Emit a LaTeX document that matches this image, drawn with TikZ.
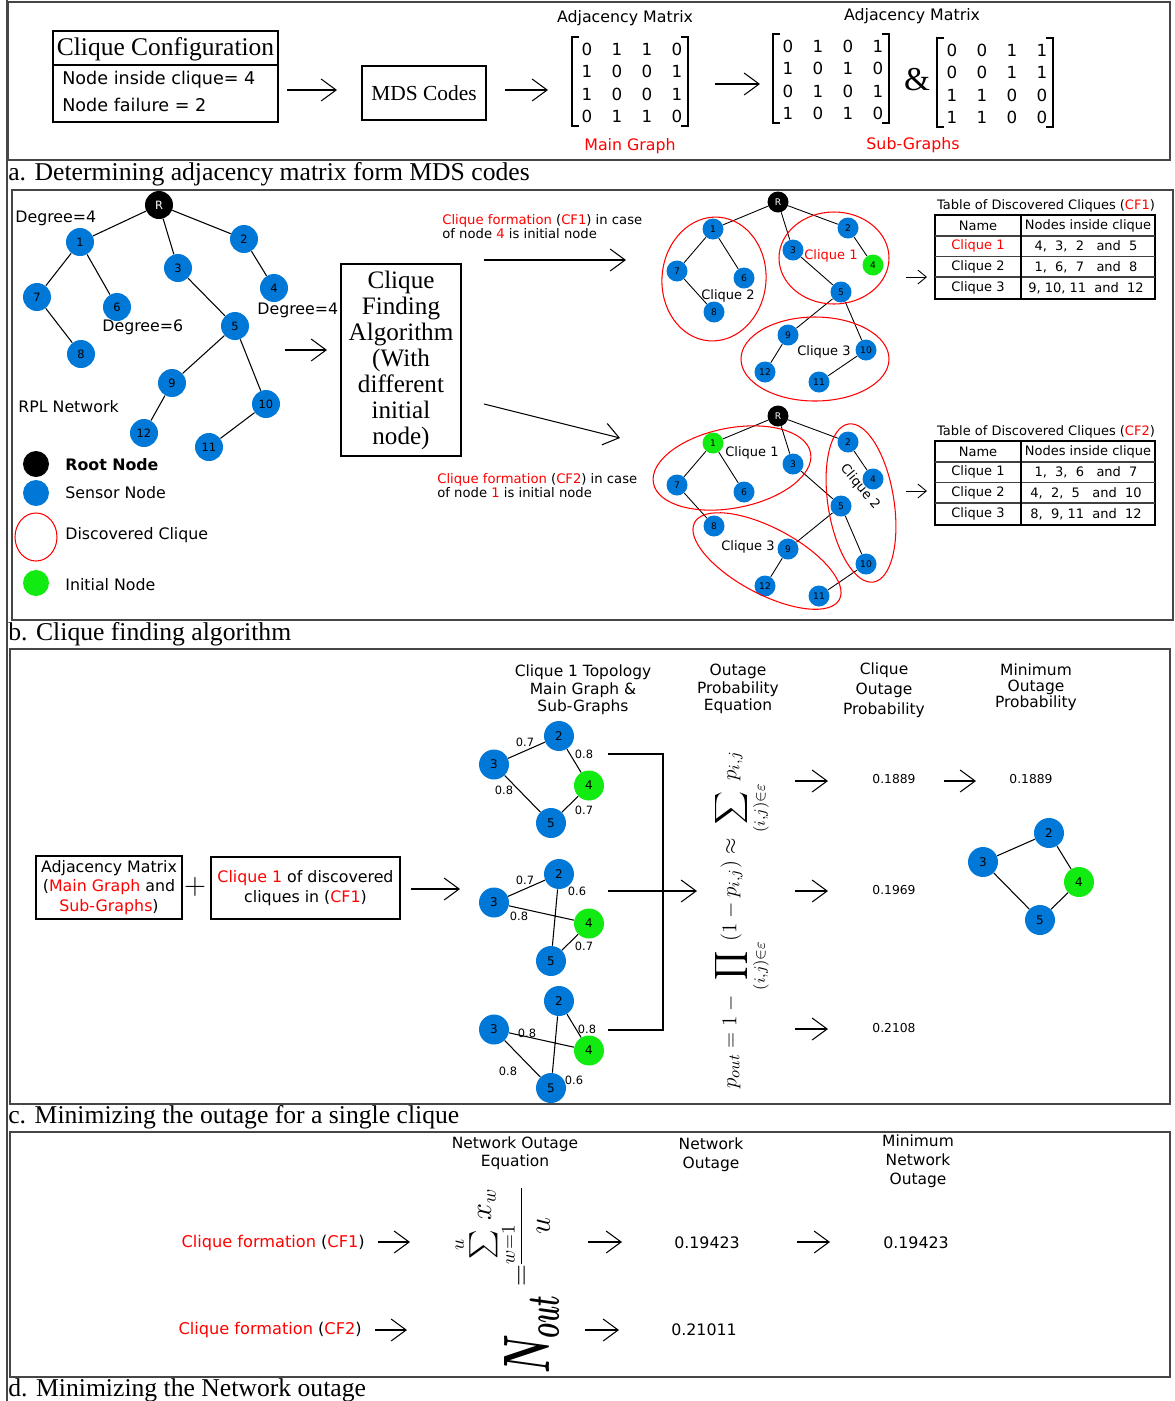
\documentclass[tikz,border=0pt]{standalone}
\usepackage{amsmath,amssymb}
\usepackage{graphicx}
\usepackage{fontspec}
\setmainfont{Liberation Serif}
\setsansfont{DejaVu Sans}
\usepackage{tikz}
\usetikzlibrary{arrows.meta}
\definecolor{nodeblue}{RGB}{0,120,215}
\definecolor{initgreen}{RGB}{18,235,18}
\definecolor{framegray}{RGB}{70,70,70}
\tikzset{
  panelframe/.style = {draw=framegray, line width=1.1pt},
  boxline/.style    = {draw, line width=0.8pt},
  bigarr/.style     = {-{Straight Barb[length=3mm,width=4.4mm]}, line width=0.6pt},
  smallarr/.style   = {-{Straight Barb[length=1.7mm,width=2.8mm]}, line width=0.5pt},
  edge/.style       = {line width=0.6pt},
  cliquering/.style = {draw=red, line width=0.6pt},
  captiontxt/.style = {anchor=west, inner sep=0pt, font=\fontsize{14.6}{16}\selectfont},
  serifbig/.style   = {inner sep=0pt, font=\fontsize{14.5}{16}\selectfont},
  labtxt/.style     = {inner sep=0pt, font=\sffamily\fontsize{9}{11}\selectfont},
  smalltxt/.style   = {inner sep=0pt, font=\sffamily\fontsize{7.4}{8}\selectfont},
  numtxt/.style     = {inner sep=0pt, font=\sffamily\fontsize{7}{8}\selectfont},
  wlabel/.style     = {inner sep=0pt, font=\sffamily\fontsize{6.5}{7}\selectfont},
  mtxentry/.style   = {inner sep=0pt, font=\sffamily\fontsize{9.5}{10}\selectfont},
  sensor/.style     = {circle, fill=nodeblue, inner sep=0pt, minimum size=0.56cm,
                       font=\sffamily\fontsize{6.5}{7}\selectfont},
  rootnode/.style   = {sensor, fill=black, text=white},
  tinysensor/.style = {circle, fill=nodeblue, inner sep=0pt, minimum size=0.42cm,
                       font=\sffamily\fontsize{5.2}{6}\selectfont},
  topnode/.style    = {circle, fill=nodeblue, inner sep=0pt, minimum size=0.6cm,
                       font=\sffamily\fontsize{6.8}{7}\selectfont}
}
\newcommand{\adjmat}[4]{%
  \draw[line width=0.7pt] (#2+7,#3) -- (#2,#3) -- (#2,#3+89) -- (#2+7,#3+89);
  \draw[line width=0.7pt] (#2+109,#3) -- (#2+116,#3) -- (#2+116,#3+89) -- (#2+109,#3+89);
  \foreach \row [count=\r] in {#4}
    \foreach \v [count=\c] in \row
      \node[mtxentry] (#1-\r-\c) at (#2+15+30*\c-30,#3+12+22.5*\r-22.5) {\v};
}
\newcommand{\cliquetab}[7]{%
  \node[smalltxt] (#1title) at (1046,#2-9) {Table of Discovered Cliques (\textcolor{red}{#3})};
  \draw[line width=0.7pt] (935,#2) rectangle (1155,#2+84);
  \foreach \dy in {21,41.5,62}
    \draw[line width=0.9pt,black!75] (935,#2+\dy) -- (1155,#2+\dy);
  \draw[line width=0.7pt] (1021,#2) -- (1021,#2+84);
  \node[smalltxt] (#1h1) at (978,#2+10.5) {Name};
  \node[smalltxt] (#1h2) at (1088,#2+10.5) {Nodes inside clique};
  \node[smalltxt] (#1c1) at (978,#2+31) {#4};
  \node[smalltxt] (#1c2) at (978,#2+52) {Clique 2};
  \node[smalltxt] (#1c3) at (978,#2+73) {Clique 3};
  \node[smalltxt] (#1v1) at (1086,#2+31) {#5};
  \node[smalltxt] (#1v2) at (1086,#2+52) {#6};
  \node[smalltxt] (#1v3) at (1086,#2+73) {#7};
}

\begin{document}
\begin{tikzpicture}[x=0.02cm,y=-0.02cm]
  \useasboundingbox (0,0) rectangle (1175,1401);
  \draw[panelframe] (7,0) -- (7,1401);
  \draw[panelframe] (8,2) rectangle (1170,160);
  \draw[panelframe] (12,190) rectangle (1173,620);
  \draw[panelframe] (10,649) rectangle (1170,1104);
  \draw[panelframe] (10,1132) rectangle (1170,1377);
  \node[captiontxt] (capa) at (8,174) {a. Determining adjacency matrix form MDS codes};
  \node[captiontxt] (capb) at (8,634) {b. Clique finding algorithm};
  \node[captiontxt] (capc) at (8,1117) {c. Minimizing the outage for a single clique};
  \node[captiontxt] (capd) at (8,1390) {d. Minimizing the Network outage};

  \foreach \nm/\x/\y in {a1s/287/90, a1e/337/90, a2s/505/90, a2e/548/90, a3s/715/84, a3e/760/84,
      b1s/285/350, b1e/327/350, b2s/484/260, b2e/626/260, b3s/484/404, b3e/620/438,
      b4s/906/277, b4e/927/277, b5s/906/491, b5e/927/491,
      c1s/411/889, c1e/460/889, ct/608/754, cjt/663/754, cjb/663/1030, cb/608/1030,
      cm/608/891, ce/697/891, c2s/795/781, c2e/828/781, c3s/795/891, c3e/828/891,
      c4s/795/1029, c4e/828/1029, c5s/944/781, c5e/976/781,
      d1s/378/1242, d1e/410/1242, d2s/375/1330, d2e/407/1330, d3s/588/1242, d3e/622/1242,
      d4s/585/1330, d4e/619/1330, d5s/797/1242, d5e/830/1242}
    \coordinate (\nm) at (\x,\y);

  \node[boxline, minimum width=4.5cm, minimum height=1.82cm] (cfgbox) at (165.5,76.5) {};
  \draw[boxline] (53,65) -- (278,65);
  \node[serifbig] (cfgtitle) at (165.5,49) {Clique Configuration};
  \node[labtxt, font=\sffamily\fontsize{10}{12}\selectfont, anchor=west] (cfgin) at (62,80) {Node inside clique= 4};
  \node[labtxt, font=\sffamily\fontsize{10}{12}\selectfont, anchor=west] (cfgfail) at (62,105) {Node failure = 2};
  \node[boxline, minimum width=2.48cm, minimum height=1.08cm, inner sep=0pt,
        font=\fontsize{12.2}{14}\selectfont] (mds) at (424,93) {MDS Codes};
  \draw[bigarr] (a1s) -- (a1e);
  \draw[bigarr] (a2s) -- (a2e);
  \draw[bigarr] (a3s) -- (a3e);
  \node[labtxt] (adjA) at (625,18) {Adjacency Matrix};
  \adjmat{mA}{572}{37}{{0,1,1,0},{1,0,0,1},{1,0,0,1},{0,1,1,0}}
  \node[labtxt, text=red] (maingr) at (630,146) {Main Graph};
  \node[labtxt] (adjB) at (912,16) {Adjacency Matrix};
  \adjmat{mB}{773}{34}{{0,1,0,1},{1,0,1,0},{0,1,0,1},{1,0,1,0}}
  \node[inner sep=0pt, font=\fontsize{19}{20}\selectfont] (amp) at (917,80) {\&};
  \adjmat{mC}{937}{38}{{0,0,1,1},{0,0,1,1},{1,1,0,0},{1,1,0,0}}
  \node[labtxt, text=red] (subgr) at (913,145) {Sub-Graphs};

  \node[rootnode] (nR) at (159,205) {R};
  \foreach \n/\x/\y in {1/80/242, 2/244/239, 3/178/268, 4/274/288, 7/37/297, 6/117/307,
                        5/235/326, 8/81/354, 9/172/383, 10/266/404, 12/144/433, 11/209/447}
    \node[sensor] (n\n) at (\x,\y) {\n};
  \foreach \a/\b in {R/1,R/3,R/2,1/7,1/6,7/8,2/4,3/5,5/9,5/10,9/12,10/11}
    \draw[edge] (n\a) -- (n\b);
  \node[labtxt, anchor=west] (deg1) at (15,218) {Degree=4};
  \node[labtxt, anchor=west] (deg2) at (102,327) {Degree=6};
  \node[labtxt, anchor=west] (deg3) at (257,310) {Degree=4};
  \node[labtxt, anchor=west] (rpl) at (18,407) {RPL Network};
  \node[sensor, fill=black, minimum size=0.52cm] (legroot) at (36,464) {};
  \node[sensor, minimum size=0.52cm] (legsensor) at (36,493) {};
  \draw[cliquering] (36,537) ellipse (21 and 24);
  \node[sensor, fill=initgreen, minimum size=0.52cm] (leginit) at (36,583) {};
  \node[labtxt, anchor=west, font=\sffamily\bfseries\fontsize{9}{11}\selectfont] (legt1) at (65,465) {Root Node};
  \node[labtxt, anchor=west] (legt2) at (65,493) {Sensor Node};
  \node[labtxt, anchor=west] (legt3) at (65,535) {Discovered Clique};
  \node[labtxt, anchor=west] (legt4) at (65,585) {Initial Node};

  \draw[bigarr] (b1s) -- (b1e);
  \node[draw, line width=0.8pt, minimum width=2.4cm, minimum height=3.84cm, inner sep=0pt,
        align=center, font=\fontsize{14.3}{14.8}\selectfont] (algo) at (401,360)
        {Clique\\Finding\\Algorithm\\(With\\different\\initial\\node)};
  \draw[bigarr] (b2s) -- (b2e);
  \draw[bigarr] (b3s) -- (b3e);
  \node[smalltxt, anchor=west, align=left, font=\sffamily\fontsize{7.5}{8}\selectfont] (cf1txt) at (442,227)
        {\textcolor{red}{Clique formation} (\textcolor{red}{CF1}) in case\\of node \textcolor{red}{4} is initial node};
  \node[smalltxt, anchor=west, align=left, font=\sffamily\fontsize{7.5}{8}\selectfont] (cf2txt) at (437,486)
        {\textcolor{red}{Clique formation} (\textcolor{red}{CF2}) in case\\of node \textcolor{red}{1} is initial node};

  \foreach \g/\dy/\ini in {u/0/4, l/214/1}{
    \node[tinysensor, fill=black, text=white] (\g R) at (778,202+\dy) {R};
    \foreach \n/\x/\y in {1/713/229, 2/848/228, 3/793/250, 4/873/265, 7/677/271, 6/744/278,
                          5/841/292, 8/714/312, 9/788/335, 10/866/350, 12/765/372, 11/819/382}{
      \ifnum\n=\ini\relax\def\fc{initgreen}\else\def\fc{nodeblue}\fi
      \node[tinysensor, fill=\fc] (\g\n) at (\x,\y+\dy) {\n};
    }
    \foreach \a/\b in {R/1,R/3,R/2,1/7,1/6,7/8,2/4,3/5,5/9,5/10,9/12,10/11}
      \draw[line width=0.5pt] (\g\a) -- (\g\b);
  }
  \draw[cliquering, rotate around={-5:(714,279)}] (714,279) ellipse (52 and 62);
  \draw[cliquering] (834,258) ellipse (55 and 46);
  \draw[cliquering] (815,359) ellipse (74 and 42);
  \node[smalltxt, text=red] (uq1) at (831,256) {Clique 1};
  \node[smalltxt] (uq2) at (728,296) {Clique 2};
  \node[smalltxt] (uq3) at (824,352) {Clique 3};
  \draw[cliquering, rotate around={11:(732,468)}] (732,468) ellipse (80 and 40);
  \draw[cliquering, rotate around={9:(861,503)}] (861,503) ellipse (33 and 80);
  \draw[cliquering, rotate around={-28:(767,561)}] (767,561) ellipse (82 and 33);
  \node[smalltxt] (lq1) at (752,453) {Clique 1};
  \node[smalltxt, rotate=-50] (lq2) at (860,487) {Clique 2};
  \node[smalltxt] (lq3) at (748,547) {Clique 3};
  \draw[smallarr] (b4s) -- (b4e);
  \draw[smallarr] (b5s) -- (b5e);
  \cliquetab{tu}{215}{CF1}{\textcolor{red}{Clique 1}}{4,\ \ 3,\ \ 2\ \ \ and\ \ 5}{1,\ \ 6,\ \ 7\ \ \ and\ \ 8}{9, 10, 11\ \ and\ \ 12}
  \cliquetab{tl}{441}{CF2}{Clique 1}{1,\ \ 3,\ \ 6\ \ \ and\ \ 7}{4,\ \ 2,\ \ 5\ \ \ and\ \ 10}{8,\ \ 9, 11\ \ and\ \ 12}

  \node[draw, line width=1pt, minimum width=2.92cm, minimum height=1.26cm, inner sep=0pt,
        align=center, font=\sffamily\fontsize{9}{11.3}\selectfont] (adjbox) at (109,887.5)
        {Adjacency Matrix\\(\textcolor{red}{Main Graph} and\\\textcolor{red}{Sub-Graphs})};
  \node[inner sep=0pt, font=\fontsize{17}{18}\selectfont] (plus) at (195,887) {$+$};
  \node[draw, line width=1pt, minimum width=3.78cm, minimum height=1.24cm, inner sep=0pt,
        align=center, font=\sffamily\fontsize{9}{11.5}\selectfont] (clqbox) at (305.5,888)
        {\textcolor{red}{Clique 1} of discovered\\cliques in (\textcolor{red}{CF1})};
  \draw[bigarr] (c1s) -- (c1e);
  \node[labtxt, align=center, font=\sffamily\fontsize{8.8}{10}\selectfont] (hc1) at (583,690)
        {Clique 1 Topology\\Main Graph \&\\Sub-Graphs};
  \node[labtxt, align=center, font=\sffamily\fontsize{8.8}{10}\selectfont] (hc2) at (738,689)
        {Outage\\Probability\\Equation};
  \node[labtxt, align=center, font=\sffamily\fontsize{8.8}{11.5}\selectfont] (hc3) at (884,690)
        {Clique\\Outage\\Probability};
  \node[labtxt, align=center, font=\sffamily\fontsize{8.8}{9.2}\selectfont] (hc4) at (1036,687)
        {Minimum\\Outage\\Probability};
  \foreach \g/\yy in {t/736, m/874, b/1001}{
    \node[topnode] (\g2) at (559,\yy) {2};
    \node[topnode] (\g3) at (494,\yy+28.5) {3};
    \node[topnode, fill=initgreen] (\g4) at (589,\yy+49.5) {4};
    \node[topnode] (\g5) at (551,\yy+87) {5};
  }
  \draw[edge] (t3) -- (t2) (t2) -- (t4) (t4) -- (t5) (t3) -- (t5);
  \draw[edge] (m3) -- (m2) (m2) -- (m5) (m3) -- (m4) (m4) -- (m5);
  \draw[edge] (b2) -- (b4) (b3) -- (b4) (b3) -- (b5) (b2) -- (b5);
  \foreach \nm/\x/\y/\w in {wt1/525/742/0.7, wt2/584/754/0.8, wt3/504/790/0.8, wt4/584/810/0.7,
                            wm1/525/880/0.7, wm2/577/891/0.6, wm3/519/916/0.8, wm4/584/946/0.7,
                            wb1/587/1029/0.8, wb2/527/1033/0.8, wb3/508/1071/0.8, wb4/574/1080/0.6}
    \node[wlabel] (\nm) at (\x,\y) {\w};
  \draw[edge] (ct) -- (cjt) -- (cjb) -- (cb);
  \draw[bigarr] (cm) -- (ce);
  \node[rotate=90, inner sep=0pt, font=\fontsize{13}{15}\selectfont] (pouteq) at (742,920)
        {$\displaystyle p_{out}=1-\prod_{(i,j)\in\varepsilon}(1-p_{i,j})\approx\sum_{(i,j)\in\varepsilon}p_{i,j}$};
  \draw[bigarr] (c2s) -- (c2e);
  \draw[bigarr] (c3s) -- (c3e);
  \draw[bigarr] (c4s) -- (c4e);
  \draw[bigarr] (c5s) -- (c5e);
  \node[numtxt] (po1) at (894,779) {0.1889};
  \node[numtxt] (po2) at (894,890) {0.1969};
  \node[numtxt] (po3) at (894,1028) {0.2108};
  \node[numtxt] (pomin) at (1031,779) {0.1889};
  \node[topnode] (r2) at (1049,833) {2};
  \node[topnode] (r3) at (983,862) {3};
  \node[topnode, fill=initgreen] (r4) at (1079,882) {4};
  \node[topnode] (r5) at (1040,920) {5};
  \draw[edge] (r3) -- (r2) (r2) -- (r4) (r4) -- (r5) (r3) -- (r5);

  \node[labtxt, align=center, font=\sffamily\fontsize{8.8}{10}\selectfont] (hd1) at (515,1153)
        {Network Outage\\Equation};
  \node[labtxt, align=center, font=\sffamily\fontsize{8.8}{10.8}\selectfont] (hd2) at (711,1155)
        {Network\\Outage};
  \node[labtxt, align=center, font=\sffamily\fontsize{8.8}{10.8}\selectfont] (hd3) at (918,1161)
        {Minimum\\Network\\Outage};
  \node[labtxt, anchor=east, font=\sffamily\fontsize{9.2}{11}\selectfont] (ncf1) at (365,1243)
        {\textcolor{red}{Clique formation} (\textcolor{red}{CF1})};
  \node[labtxt, anchor=east, font=\sffamily\fontsize{9.2}{11}\selectfont] (ncf2) at (362,1330)
        {\textcolor{red}{Clique formation} (\textcolor{red}{CF2})};
  \draw[bigarr] (d1s) -- (d1e);
  \draw[bigarr] (d2s) -- (d2e);
  \node[rotate=90, anchor=base, inner sep=0pt, font=\fontsize{22}{24}\selectfont] (nout) at (549,1334)
        {\scalebox{1}[1.8]{$\boldsymbol{N_{out}}$}};
  \node[rotate=90, anchor=base, inner sep=0pt, font=\fontsize{16}{18}\selectfont] (eqs) at (529,1276) {$=$};
  \node[rotate=90, anchor=base, inner sep=0pt, font=\fontsize{16}{18}\selectfont] (nfrac) at (529,1226)
        {$\dfrac{\sum\limits_{w=1}^{u} x_w}{u}$};
  \draw[bigarr] (d3s) -- (d3e);
  \draw[bigarr] (d4s) -- (d4e);
  \draw[bigarr] (d5s) -- (d5e);
  \node[labtxt] (no1) at (707,1243) {0.19423};
  \node[labtxt] (no2) at (704,1330) {0.21011};
  \node[labtxt] (nomin) at (916,1243) {0.19423};
\end{tikzpicture}
\end{document}
